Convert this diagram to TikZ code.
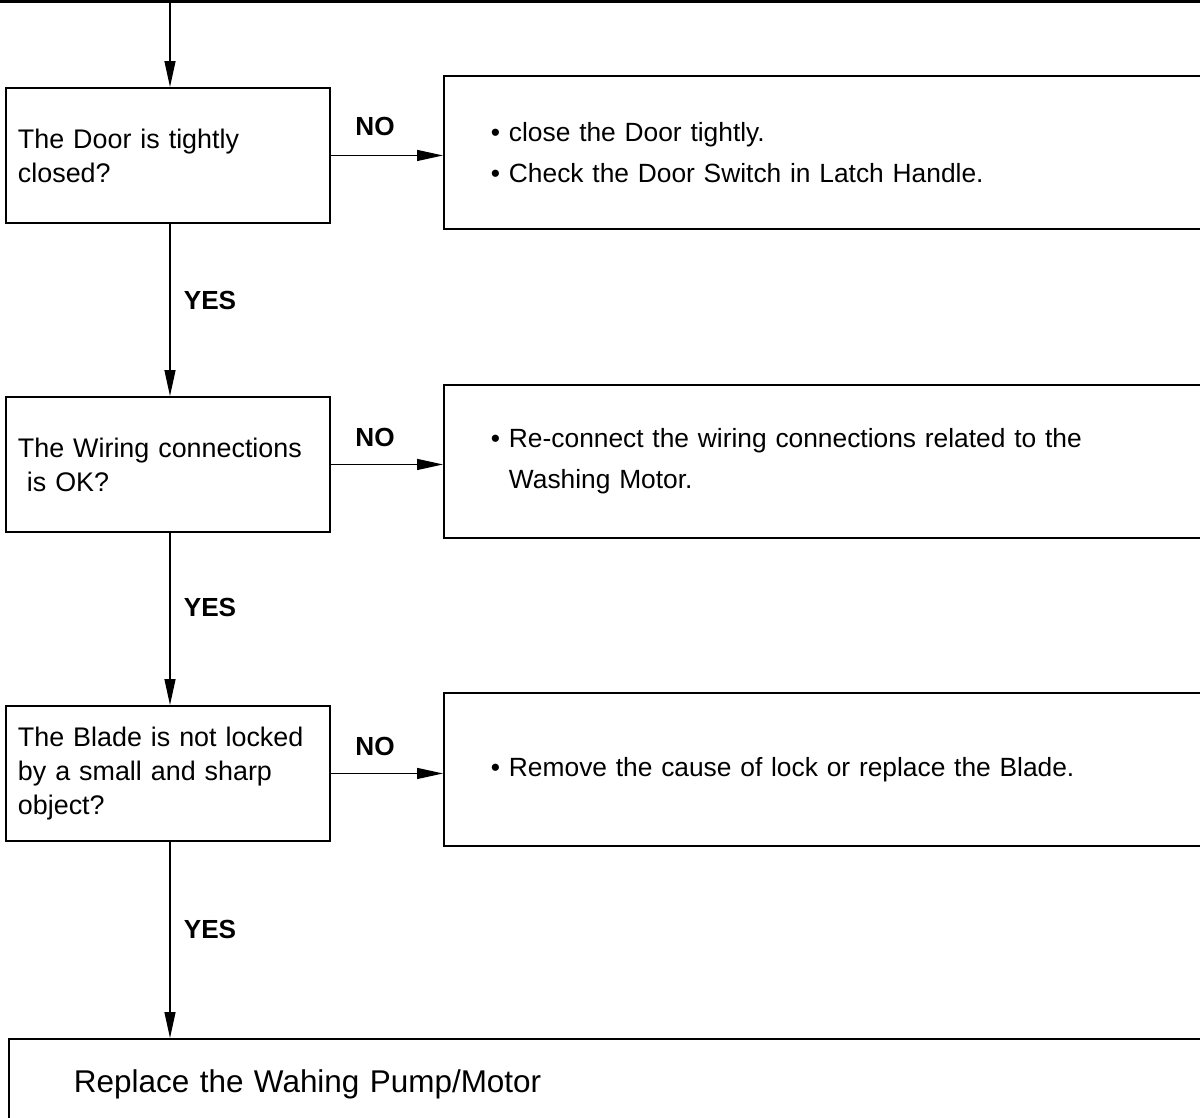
\documentclass[tikz,border=0pt]{standalone}
\usepackage{fontspec}
\setmainfont{Liberation Sans}
\usetikzlibrary{arrows.meta,positioning,calc}
\tikzset{
  question/.style={draw,line width=1.1pt,rectangle,anchor=north west,minimum width=6.48cm,minimum height=2.7cm,
    text width=6.0cm,inner xsep=0.24cm,align=left,font=\fontsize{15.3}{19.3}\selectfont},
  remedy/.style={draw,line width=1.1pt,rectangle,anchor=north west,minimum width=15.16cm,minimum height=3.06cm,
    text width=13.9cm,inner xsep=0.94cm,align=left,font=\fontsize{15}{23.5}\selectfont},
  answer/.style={font=\fontsize{14.9}{17}\selectfont\bfseries},
  flow/.style={line width=0.75pt,-{Triangle[length=0.52cm,width=0.22cm]}}
}
\begin{document}
\begin{tikzpicture}[x=0.02cm,y=-0.02cm]
\clip (0,0) rectangle (1200,1117);
\fill[white] (0,0) rectangle (1200,1117);
\draw[line width=1.8pt] (0,1.6) -- (1200,1.6);
\coordinate (entry) at (170,1);

\node[question] (door) at (5,87) {The Door is tightly\\closed?};
\node[question] (wiring) at (5,396) {The Wiring connections\\\ is OK?};
\node[question] (blade) at (5,705) {The Blade is not locked\\by a small and sharp\\object?};

\node[remedy] (closedoor) at (443,75) {\textbullet\ close the Door tightly.\\\textbullet\ Check the Door Switch in Latch Handle.};
\node[remedy] (reconnect) at (443,384) {\textbullet\ Re-connect the wiring connections related to the\\\phantom{\textbullet\ }Washing Motor.};
\node[remedy] (removelock) at (443,692) {\textbullet\ Remove the cause of lock or replace the Blade.};

\node[draw,line width=1.1pt,anchor=north west,minimum width=24.2cm,minimum height=1.8cm,text width=22cm,
  inner xsep=1.3cm,align=left,font=\fontsize{17.9}{21}\selectfont] (pump) at (8,1038) {Replace the Wahing Pump/Motor};

% arrows
\draw[flow] (entry) -- (entry |- door.north);
\draw[flow] (door.east) -- (door.east -| closedoor.west);
\draw[flow] (wiring.east) -- (wiring.east -| reconnect.west);
\draw[flow] (blade.east) -- (blade.east -| removelock.west);
\draw[flow] (door.south -| entry) -- (wiring.north -| entry);
\draw[flow] (wiring.south -| entry) -- (blade.north -| entry);
\draw[flow] (blade.south -| entry) -- (pump.north -| entry);

\node[answer] (no1) at (375,126) {NO};
\node[answer] (no2) at (375,437) {NO};
\node[answer] (no3) at (375,746) {NO};
\node[answer] (yes1) at (210,300) {YES};
\node[answer] (yes2) at (210,607) {YES};
\node[answer] (yes3) at (210,929) {YES};
\end{tikzpicture}
\end{document}
